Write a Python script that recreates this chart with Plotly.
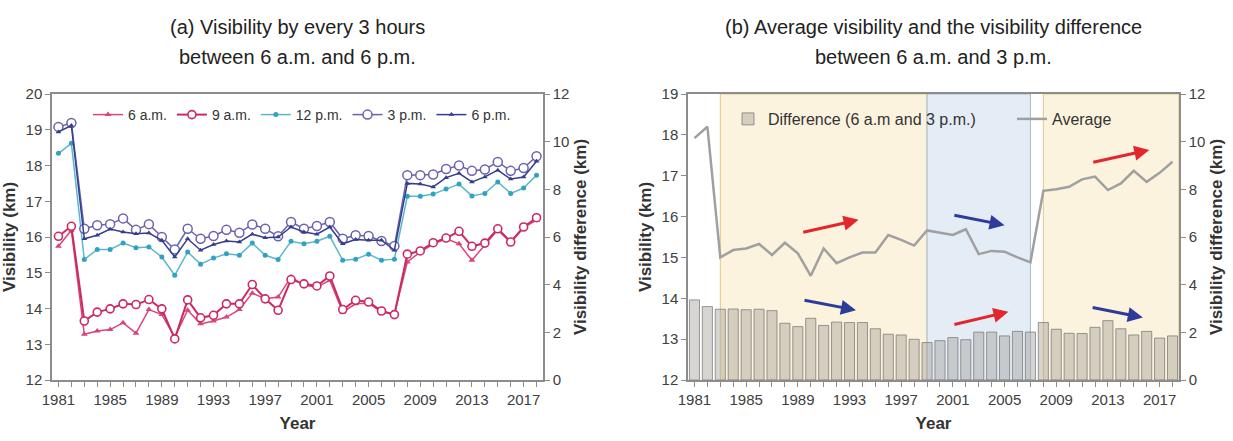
import plotly.graph_objects as go

# ---------------- data ----------------
years = list(range(1981, 2019))
tick_labels = [str(y) if (y - 1981) % 4 == 0 else "" for y in years]

vis_6am = [15.74, 16.19, 13.28, 13.37, 13.41, 13.60, 13.31, 13.97, 13.83, 13.20,
           13.95, 13.57, 13.65, 13.76, 13.97, 14.43, 14.27, 14.32, 14.88, 14.65,
           14.60, 14.79, 13.90, 14.13, 14.15, 13.90, 13.85, 15.30, 15.58, 15.80,
           15.95, 15.81, 15.35, 15.77, 16.20, 15.85, 16.26, 16.47]
vis_9am = [16.02, 16.30, 13.65, 13.90, 13.99, 14.13, 14.11, 14.25, 13.99, 13.15,
           14.24, 13.74, 13.81, 14.13, 14.13, 14.67, 14.27, 13.95, 14.81, 14.69,
           14.63, 14.91, 13.97, 14.23, 14.18, 13.93, 13.83, 15.52, 15.61, 15.84,
           15.97, 16.16, 15.74, 15.83, 16.23, 15.86, 16.28, 16.54]
vis_12pm = [18.34, 18.62, 15.37, 15.65, 15.65, 15.83, 15.70, 15.72, 15.44, 14.93,
            15.58, 15.24, 15.41, 15.53, 15.49, 15.83, 15.49, 15.37, 15.88, 15.81,
            15.88, 16.02, 15.35, 15.38, 15.52, 15.35, 15.38, 17.14, 17.14, 17.20,
            17.34, 17.48, 17.15, 17.22, 17.54, 17.22, 17.37, 17.73]
vis_3pm = [19.08, 19.19, 16.23, 16.33, 16.36, 16.52, 16.20, 16.36, 16.00, 15.65,
           16.23, 15.95, 16.03, 16.20, 16.12, 16.35, 16.23, 16.02, 16.42, 16.23,
           16.31, 16.42, 15.95, 16.05, 16.03, 15.89, 15.75, 17.73, 17.73, 17.75,
           17.90, 18.00, 17.85, 17.89, 18.10, 17.85, 17.93, 18.26]
vis_6pm = [18.94, 19.12, 15.95, 16.05, 16.22, 16.14, 16.09, 16.11, 15.91, 15.44,
           15.95, 15.63, 15.79, 15.89, 15.86, 16.08, 15.98, 16.00, 16.28, 16.14,
           16.08, 16.28, 15.81, 15.93, 15.91, 15.91, 15.63, 17.50, 17.48, 17.40,
           17.66, 17.78, 17.54, 17.68, 17.87, 17.62, 17.68, 18.12]

avg_vis = [17.92, 18.20, 15.00, 15.18, 15.22, 15.33, 15.06, 15.36, 15.10, 14.55,
           15.22, 14.86, 15.00, 15.12, 15.12, 15.55, 15.43, 15.29, 15.66, 15.61,
           15.55, 15.69, 15.08, 15.16, 15.14, 15.00, 14.88, 16.63, 16.67, 16.73,
           16.91, 16.98, 16.65, 16.81, 17.12, 16.85, 17.07, 17.34]
diff_6am_3pm = [3.36, 3.08, 2.97, 2.98, 2.95, 2.97, 2.91, 2.38, 2.24, 2.59,
                2.29, 2.43, 2.41, 2.41, 2.15, 1.92, 1.89, 1.71, 1.57, 1.65,
                1.78, 1.69, 2.01, 2.01, 1.85, 2.04, 2.01, 2.41, 2.13, 1.96,
                1.95, 2.21, 2.49, 2.15, 1.89, 2.04, 1.76, 1.85]

# shaded periods (start year, end year, kind)
period_start = [1983, 1999, 2008]
period_end = [1999, 2007, 2018.5]
period_kind = ["up", "down", "up"]

# trend arrows: start year, end year, start value, end value, colour kind
arrow_x0 = [1989.3, 1989.4, 2001.0, 2001.0, 2011.75, 2011.7]
arrow_x1 = [1993.7, 1993.5, 2005.0, 2005.3, 2016.2, 2015.7]
arrow_y0 = [15.61, 13.96, 16.04, 13.35, 17.32, 13.78]
arrow_y1 = [15.92, 13.71, 15.79, 13.67, 17.63, 13.53]
arrow_kind = ["red", "blue", "blue", "red", "red", "blue"]

# ---------------- styling ----------------
FONT = "Liberation Sans, Arial, sans-serif"
AXC = "#8c8c8c"
TXT = "#404040"
W, H = 1233, 441
xl = [52 / W, 543 / W]
xr = [688 / W, 1179 / W]
yd = [61 / H, 347 / H]

fig = go.Figure()

series = [
    ("6 a.m.", vis_6am, "#d9457a", dict(symbol="triangle-up", size=6, color="#d9457a"), 1.5),
    ("9 a.m.", vis_9am, "#cc2a5e", dict(symbol="circle", size=8, color="white",
                                        line=dict(color="#cc2a5e", width=1.6)), 2),
    ("12 p.m.", vis_12pm, "#5bb8cc", dict(symbol="circle", size=5, color="#2fa3c2"), 1.5),
    ("3 p.m.", vis_3pm, "#6a62ae", dict(symbol="circle", size=9, color="white",
                                        line=dict(color="#6a62ae", width=1.5)), 1.5),
    ("6 p.m.", vis_6pm, "#353d8f", dict(symbol="triangle-up", size=5, color="#353d8f"), 1.5),
]
for name, vals, col, mk, lw in series:
    fig.add_trace(go.Scatter(x=years, y=vals, name=name, mode="lines+markers",
                             line=dict(color=col, width=lw), marker=mk,
                             xaxis="x", yaxis="y", legend="legend"))

# invisible trace to keep the secondary axis of panel (a)
fig.add_trace(go.Scatter(x=[years[0]], y=[0], mode="markers", marker=dict(opacity=0),
                         showlegend=False, hoverinfo="skip", xaxis="x", yaxis="y2"))

fig.add_trace(go.Bar(x=years, y=diff_6am_3pm, name="Difference (6 a.m and 3 p.m.)",
                     marker=dict(color="rgba(160,156,146,0.42)",
                                 line=dict(color="rgba(120,120,120,0.75)", width=1)),
                     xaxis="x2", yaxis="y4", legend="legend2"))
fig.add_trace(go.Scatter(x=years, y=avg_vis, name="Average", mode="lines",
                         line=dict(color="#a0a0a0", width=2.5),
                         xaxis="x2", yaxis="y3", legend="legend3"))

shapes = []
for s, e, k in zip(period_start, period_end, period_kind):
    fill = "#fcf3df" if k == "up" else "#e4ecf6"
    edge = "#e2c77e" if k == "up" else "#a3b8d0"
    shapes.append(dict(type="rect", xref="x2", yref="y3 domain", x0=s, x1=e, y0=0, y1=1,
                       fillcolor=fill, line=dict(color=edge, width=1), layer="below"))

annotations = []
for x0, x1, y0, y1, k in zip(arrow_x0, arrow_x1, arrow_y0, arrow_y1, arrow_kind):
    col = "#e3262c" if k == "red" else "#2d3c98"
    annotations.append(dict(x=x1, y=y1, ax=x0, ay=y0, xref="x2", yref="y3",
                            axref="x2", ayref="y3", showarrow=True, text="",
                            arrowhead=2, arrowsize=1, arrowwidth=3, arrowcolor=col))

titles = [
    ("(a) Visibility by every 3 hours", (xl[0] + xl[1]) / 2, 1 - 27 / H),
    ("between 6 a.m. and 6 p.m.", (xl[0] + xl[1]) / 2, 1 - 57 / H),
    ("(b) Average visibility and the visibility difference", (xr[0] + xr[1]) / 2, 1 - 27 / H),
    ("between 6 a.m. and 3 p.m.", (xr[0] + xr[1]) / 2, 1 - 57 / H),
]
for t, x, y in titles:
    annotations.append(dict(text=t, x=x, y=y, xref="paper", yref="paper",
                            xanchor="center", yanchor="middle", showarrow=False,
                            font=dict(family=FONT, size=20, color="#222222")))

tickfont = dict(family=FONT, size=15, color=TXT)
titlefont = dict(family=FONT, size=17, color="#333333")


def xax(domain, anchor):
    return dict(domain=domain, anchor=anchor, range=[1980.5, 2018.5],
                tickmode="array", tickvals=years, ticktext=tick_labels,
                ticks="outside", ticklen=5, tickcolor=AXC, showline=True,
                linecolor=AXC, linewidth=1.5, mirror=True, showgrid=False,
                zeroline=False, tickfont=tickfont, automargin=False,
                title=dict(text="<b>Year</b>", font=titlefont, standoff=10))


def yax(domain, anchor, rng, dtick, title, side="left", overlaying=None, standoff=6):
    d = dict(domain=domain, anchor=anchor, range=rng, dtick=dtick, side=side,
             ticks="outside", ticklen=5, tickcolor=AXC, showline=True,
             linecolor=AXC, linewidth=1.5, showgrid=False, zeroline=False,
             tickfont=tickfont, automargin=False,
             title=dict(text="<b>" + title + "</b>", font=titlefont, standoff=standoff))
    if overlaying:
        d["overlaying"] = overlaying
    return d


leg_common = dict(orientation="h", xanchor="left", yanchor="middle",
                  bgcolor="rgba(0,0,0,0)", itemwidth=30)

fig.update_layout(
    width=W, height=H, margin=dict(l=0, r=0, t=0, b=0),
    paper_bgcolor="white", plot_bgcolor="white",
    font=dict(family=FONT, color=TXT),
    bargap=0.22,
    xaxis=xax(xl, "y"),
    yaxis=yax(yd, "x", [12, 20], 1, "Visibility (km)"),
    yaxis2=yax(yd, "x", [0, 12], 2, "Visibility difference (km)", side="right", overlaying="y"),
    xaxis2=xax(xr, "y3"),
    yaxis3=yax(yd, "x2", [12, 19], 1, "Visibility (km)"),
    yaxis4=yax(yd, "x2", [0, 12], 2, "Visibility difference (km)", side="right", overlaying="y3"),
    legend=dict(x=88 / W, y=1 - 115 / H, font=dict(family=FONT, size=14, color="#333333"),
                **leg_common),
    legend2=dict(x=728 / W, y=1 - 119 / H, font=dict(family=FONT, size=16, color="#333333"),
                 **leg_common),
    legend3=dict(x=1012 / W, y=1 - 119 / H, font=dict(family=FONT, size=16, color="#333333"),
                 **leg_common),
    shapes=shapes,
    annotations=annotations,
)

fig.write_html("out.html")
